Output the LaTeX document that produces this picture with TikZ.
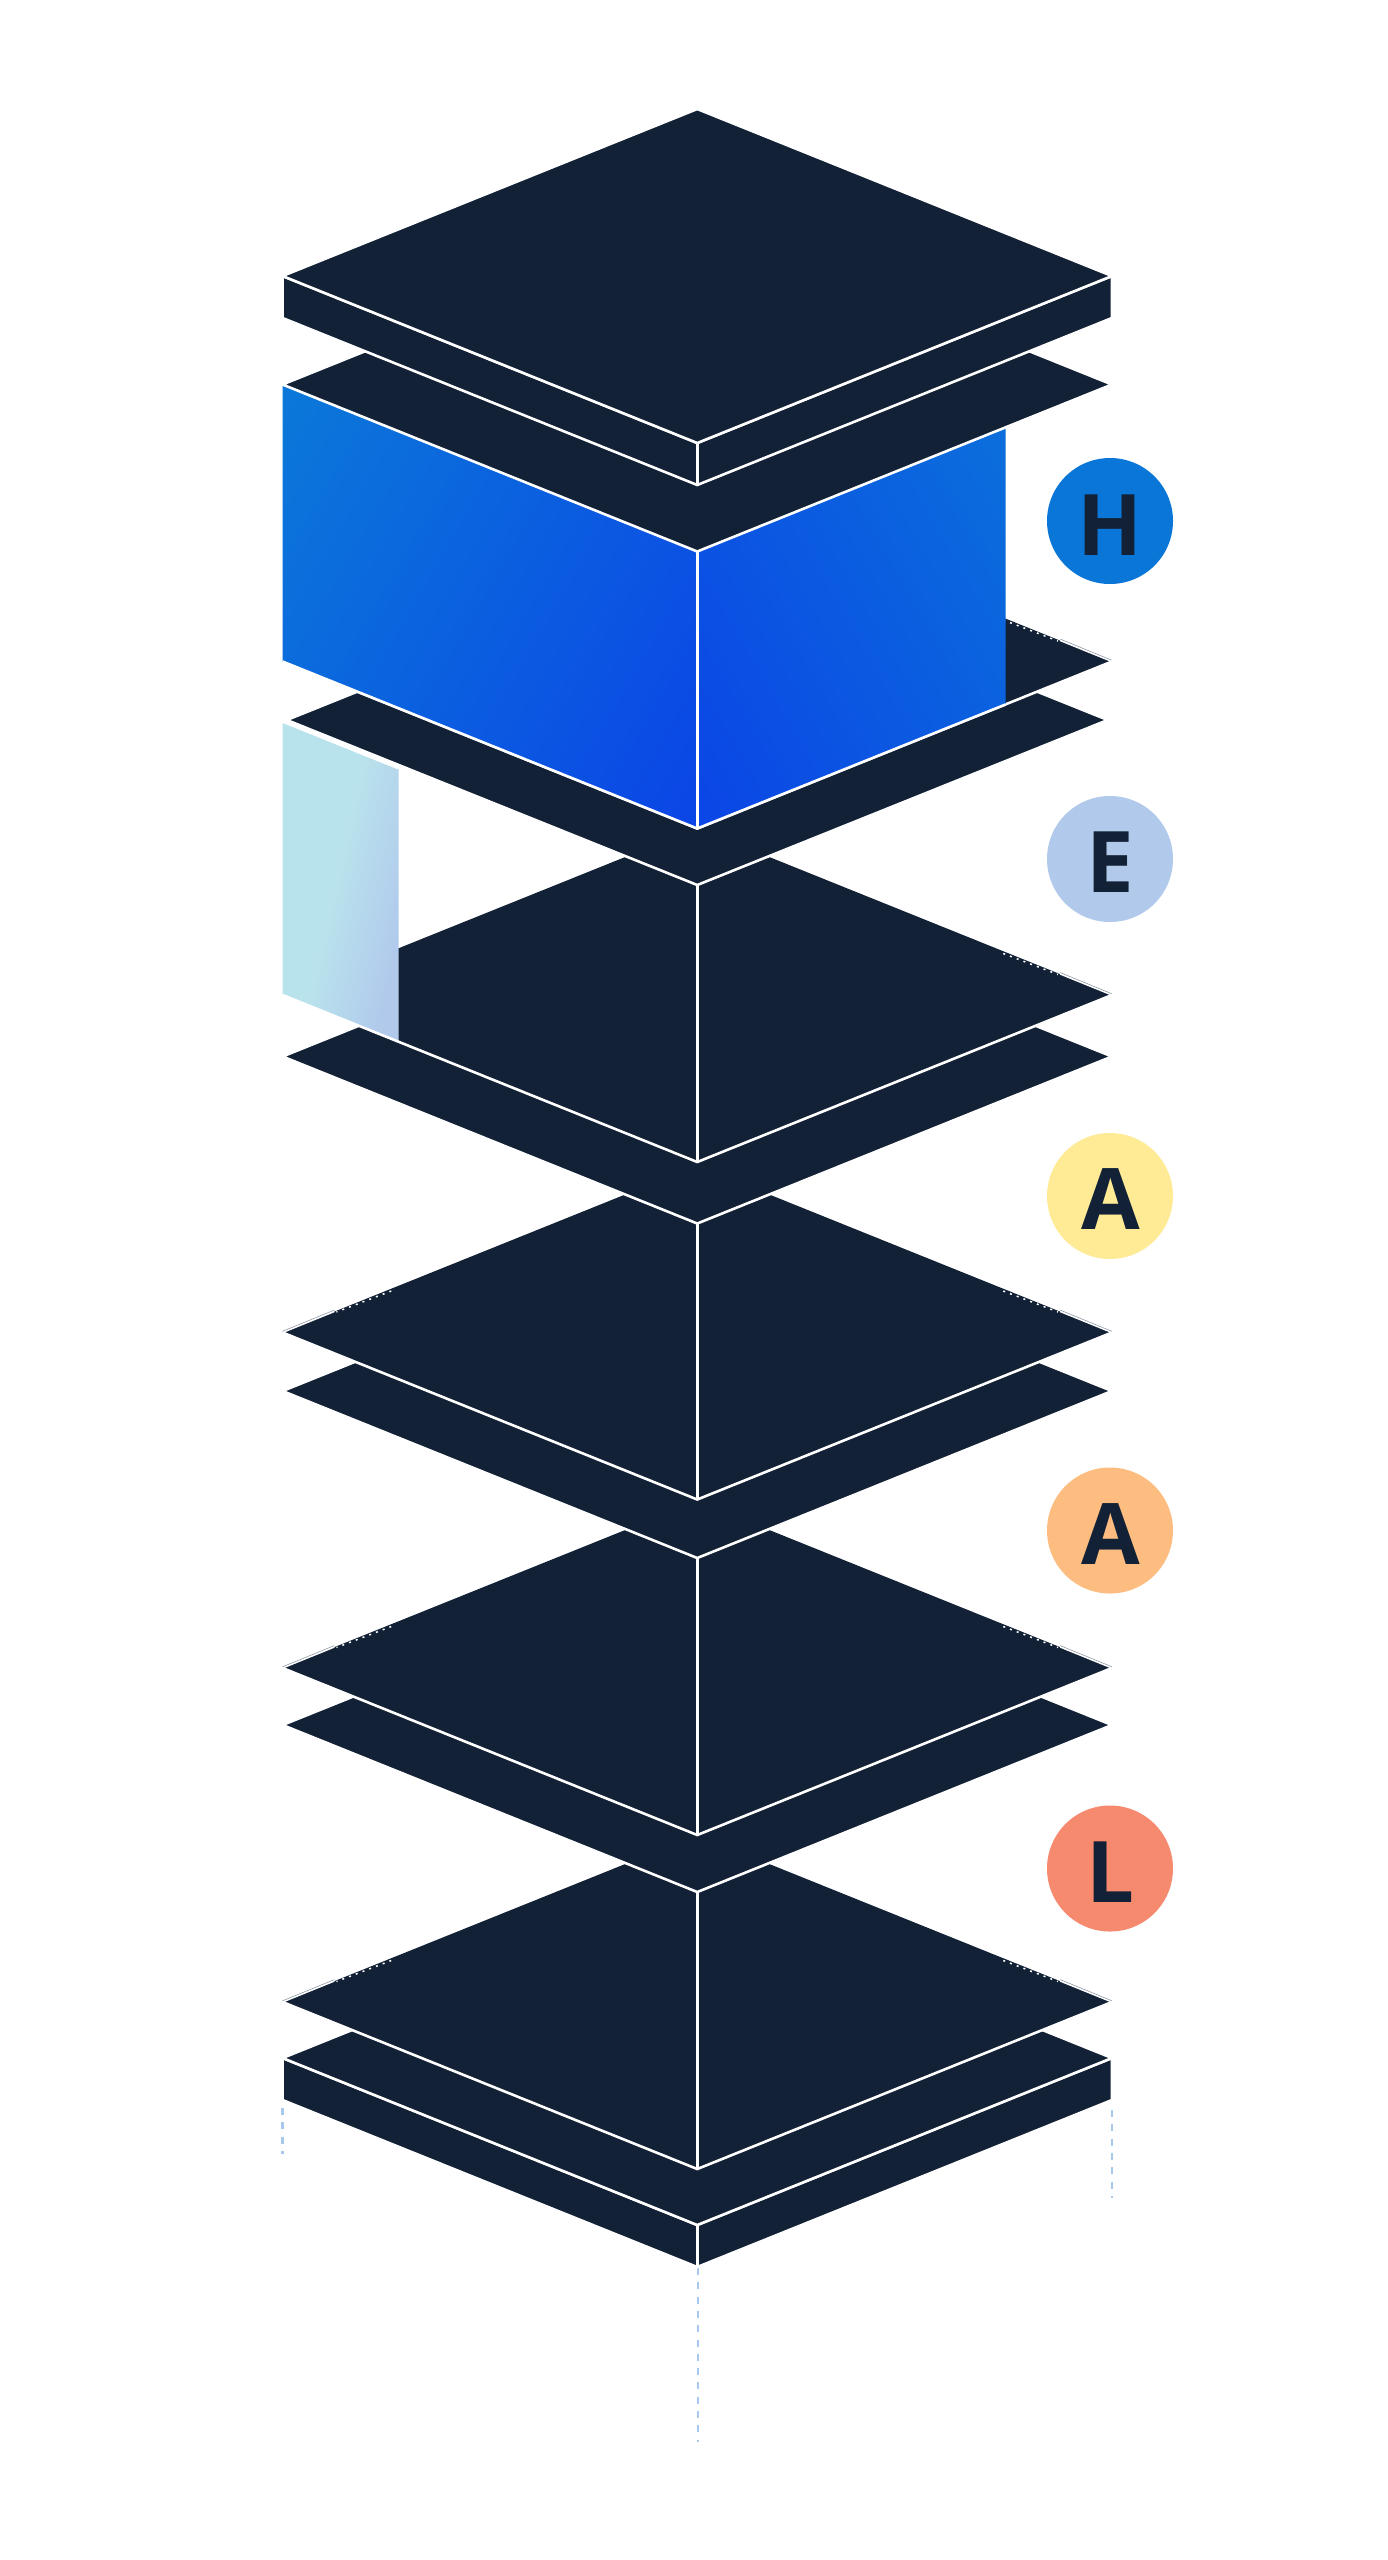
\documentclass[tikz,border=0pt]{standalone}
\usepackage{fontspec}
\setmainfont{Open Sans}
\definecolor{ink}{HTML}{122136}
\definecolor{blueA}{HTML}{0B78D9}
\definecolor{blueB}{HTML}{0B45E6}
\definecolor{panelA}{HTML}{B9E3EC}
\definecolor{panelB}{HTML}{B1CAEC}
\definecolor{guideblue}{HTML}{A9C8F0}
\definecolor{badgeH}{HTML}{0A76D8}
\definecolor{badgeE}{HTML}{B1CAEC}
\definecolor{badgeA}{HTML}{FFEB96}
\definecolor{badgeB}{HTML}{FDBD80}
\definecolor{badgeL}{HTML}{F68A6F}
\definecolor{edgegrey}{HTML}{8F9AA8}
\pgfdeclarehorizontalshading{panelshade}{100bp}{color(0bp)=(panelA); color(49bp)=(panelA); color(60bp)=(panelB); color(100bp)=(panelB)}
\def\cx{697.25}
\def\hw{414.75}
\def\hh{167}
% filled rhombus with corners at height #1
\newcommand{\myrhomb}[1]{({\cx-\hw},{#1}) -- (\cx,{#1-\hh}) -- ({\cx+\hw},{#1}) -- (\cx,{#1+\hh}) -- cycle}
% lower V of a rhombus
\newcommand{\lowerV}[1]{({\cx-\hw},{#1}) -- (\cx,{#1+\hh}) -- ({\cx+\hw},{#1})}
% stippled stretch of an upper edge; #2 = 1 right, -1 left
\newcommand{\edgetrim}[2]{%
  \draw[stipple] ({\cx+#2*306},{#1-41.5}) -- ({\cx+#2*360.75},{#1-20.5});
  \draw[white,line width=1.5pt] ({\cx+#2*363},{#1-21}) -- ({\cx+#2*\hw},{#1});
  \draw[edgegrey,line width=.6pt] ({\cx+#2*363},{#1-22.4}) -- ({\cx+#2*\hw},{#1-1.2});
}
% thin slab: rhombus at #1 with sides down to #1+42
\newcommand{\myslab}[1]{%
  \draw[plate] ({\cx-\hw},{#1}) -- (\cx,{#1+\hh}) -- ({\cx+\hw},{#1}) -- ({\cx+\hw},{#1+42}) -- (\cx,{#1+\hh+42}) -- ({\cx-\hw},{#1+42}) -- cycle;
  \draw[plate] \myrhomb{#1};
  \draw[seam] (\cx,{#1+\hh}) -- (\cx,{#1+\hh+42});
}
% tall block: rhombus at #1, centre seam from #2
\newcommand{\myblock}[2]{%
  \fill[ink] \myrhomb{#1};
  \draw[seam] \lowerV{#1};
  \draw[seam] (\cx,#2) -- (\cx,{#1+\hh});
}
\tikzset{
  plate/.style={fill=ink,draw=white,line width=2.6pt,line join=miter},
  seam/.style={draw=white,line width=2.6pt,line join=miter},
  stipple/.style={draw=white,line width=1.5pt,dash pattern=on 2pt off 5.2pt},
  guide/.style={draw=guideblue,line width=2.2pt,dash pattern=on 7pt off 7.3pt},
  badge/.style={circle,minimum size=126pt,inner sep=0pt,draw=none},
  letter/.style={anchor=base,inner sep=0pt,text=ink,font=\fontsize{85}{85}\selectfont\bfseries}
}
\begin{document}
\begin{tikzpicture}[x=1pt,y=-1pt]
\useasboundingbox (0,0) rectangle (1388,2560);
\fill[white] (0,0) rectangle (1388,2560);

% guide lines below the stack
\coordinate (gc0) at (698,2268); \coordinate (gc1) at (698,2442);
\coordinate (gl0) at (282.5,2108); \coordinate (gl1) at (282.5,2154);
\coordinate (gr0) at (1112,2110); \coordinate (gr1) at (1112,2198);
\draw[guide] (gc0) -- (gc1);
\draw[guide] (gl0) -- (gl1);
\draw[guide] (gr0) -- (gr1);

% bottom up
\myslab{2058}
\myblock{2002}{1892}
\edgetrim{2002}{1}\edgetrim{2002}{-1}
\draw[plate] \myrhomb{1725};
\myblock{1668}{1558}
\edgetrim{1668}{1}\edgetrim{1668}{-1}
\draw[plate] \myrhomb{1391};
\myblock{1332.5}{1223}
\edgetrim{1332.5}{1}\edgetrim{1332.5}{-1}
\draw[plate] \myrhomb{1056.5};
% E block with the pale panel over its left tip
\fill[ink] \myrhomb{995};
\edgetrim{995}{1}
\begin{scope}
  \clip (282.5,721.5) -- (398.5,768.2) -- (398.5,1041.6) -- (282.5,995) -- cycle;
  \shade[shading=panelshade,shading angle=-13] (171,712) rectangle (511,1052);
\end{scope}
\draw[seam] \lowerV{995};
\draw[seam] (\cx,885) -- (\cx,1162);
\draw[white,line width=2.6pt] (282.5,721.5) -- (398.5,768.2);
% narrower plate
\draw[plate] (286.75,720) -- (\cx,555) -- (1107.75,720) -- (\cx,885) -- cycle;
% blue block
\fill[ink] \myrhomb{661.5};
\edgetrim{661.5}{1}
\draw[seam] \lowerV{661.5};
\begin{scope}
  \clip (282.5,384.5) -- (\cx,551.5) -- (\cx,828.5) -- (282.5,661.5) -- cycle;
  \shade[top color=blueA,bottom color=blueB,shading angle=60] (200,317) rectangle (780,897);
\end{scope}
\begin{scope}
  \clip (\cx,551.5) -- (1005.7,427.4) -- (1005.7,704.4) -- (\cx,828.5) -- cycle;
  \shade[top color=blueA,bottom color=blueB,shading angle=-60] (614,317) rectangle (1194,897);
\end{scope}
\draw[seam] (282.5,661.5) -- (\cx,828.5) -- (1005.7,704.4);
\draw[seam] (\cx,551.5) -- (\cx,828.5);
\draw[plate] \myrhomb{384.5};
% top slab
\myslab{276}

% badges
\node[badge,fill=badgeH] (bh) at (1110,521) {};
\node[badge,fill=badgeE] (be) at (1110,859) {};
\node[badge,fill=badgeA] (ba) at (1110,1196) {};
\node[badge,fill=badgeB] (bb) at (1110,1530.5) {};
\node[badge,fill=badgeL] (bl) at (1110,1868.5) {};
\node[letter] (th) at (1110.5,555) {H};
\node[letter] (te) at (1110.5,892) {E};
\node[letter] (ta) at (1110.5,1229) {A};
\node[letter] (tb) at (1110.5,1564) {A};
\node[letter] (tl) at (1110.5,1902) {L};
\end{tikzpicture}
\end{document}
